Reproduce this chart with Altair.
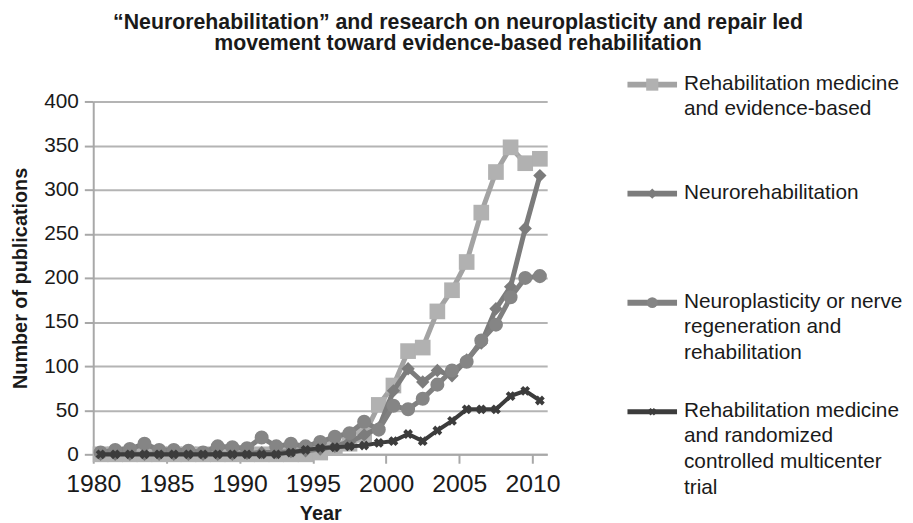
import altair as alt
import pandas as pd

# ---------------- data ----------------
years = list(range(1980, 2011))

series_names = [
    "Rehabilitation medicine and evidence-based",
    "Neurorehabilitation",
    "Neuroplasticity or nerve regeneration and rehabilitation",
    "Rehabilitation medicine and randomized controlled multicenter trial",
]

legend_lines = [
    "Rehabilitation medicine\nand evidence-based",
    "Neurorehabilitation",
    "Neuroplasticity or nerve\nregeneration and\nrehabilitation",
    "Rehabilitation medicine\nand randomized\ncontrolled multicenter\ntrial",
]

evidence_based = [0, 0, 0, 0, 0, 0, 0, 0, 0, 0,
                  0, 0, 0, 0, 0, 2, 7, 12, 22, 56,
                  78, 117, 121, 162, 186, 218, 274, 320, 348, 330, 335]

neurorehab = [0, 0, 0, 0, 0, 0, 0, 0, 0, 0,
              1, 2, 2, 3, 4, 6, 9, 14, 22, 30,
              72, 97, 82, 95, 89, 107, 126, 165, 190, 256, 316]

neuroplasticity = [2, 5, 6, 12, 5, 5, 4, 2, 9, 8,
                   7, 19, 9, 12, 9, 14, 20, 24, 37, 28,
                   55, 51, 63, 79, 95, 105, 129, 147, 178, 200, 202]

rct_multicenter = [0, 0, 0, 0, 0, 0, 0, 0, 0, 0,
                   0, 0, 0, 2, 5, 7, 8, 9, 10, 13,
                   15, 23, 15, 27, 38, 51, 51, 51, 66, 72, 61]

x_ticks = [1980, 1985, 1990, 1995, 2000, 2005, 2010]
y_ticks = [0, 50, 100, 150, 200, 250, 300, 350, 400]

title_lines = [
    "\u201cNeurorehabilitation\u201d and research on neuroplasticity and repair led",
    "movement toward evidence-based rehabilitation",
]

# ---------------- styles ----------------
FONT = "Liberation Sans"
styles = {
    series_names[0]: dict(line="#a3a3a3", marker="#b1b1b1", shape="square", size=250, angle=0, width=5),
    series_names[1]: dict(line="#7c7c7c", marker="#7c7c7c", shape="diamond", size=180, angle=0, width=5),
    series_names[2]: dict(line="#808080", marker="#858585", shape="circle", size=200, angle=0, width=5),
    series_names[3]: dict(line="#3c3c3c", marker="#3c3c3c", shape="cross", size=100, angle=45, width=4),
}

all_values = [evidence_based, neurorehab, neuroplasticity, rct_multicenter]

rows = []
for name, vals in zip(series_names, all_values):
    for y, v in zip(years, vals):
        rows.append({"series": name, "year": y, "value": v})
df = pd.DataFrame(rows)

x_enc = alt.X(
    "pos:Q",
    scale=alt.Scale(domain=[1980, 2011], nice=False, zero=False),
    axis=alt.Axis(
        values=x_ticks, format="d", title="Year", grid=False,
        domainColor="#a8a8a8", domainWidth=2, tickColor="#a8a8a8", tickWidth=2,
        tickSize=9, labelFontSize=25, labelFont=FONT, labelColor="#1a1a1a",
        labelPadding=9, labelFlush=False,
        titleFont=FONT, titleFontSize=20, titleFontWeight="bold", titleColor="#1a1a1a",
        titlePadding=7,
    ),
)
y_enc = alt.Y(
    "value:Q",
    scale=alt.Scale(domain=[0, 400], nice=False),
    axis=alt.Axis(
        values=y_ticks, title="Number of publications", grid=True,
        gridColor="#b4b4b4", gridWidth=2,
        domainColor="#a8a8a8", domainWidth=2, tickColor="#a8a8a8", tickWidth=2,
        tickSize=9, labelFontSize=21, labelFont=FONT, labelColor="#1a1a1a",
        labelPadding=6,
        titleFont=FONT, titleFontSize=20, titleFontWeight="bold", titleColor="#1a1a1a",
        titlePadding=13,
    ),
)

base = alt.Chart(df).transform_calculate(pos="datum.year + 0.5")

data_layers = []
for name in series_names:
    st = styles[name]
    sub = base.transform_filter(alt.datum.series == name)
    data_layers.append(
        sub.mark_line(color=st["line"], strokeWidth=st["width"]).encode(x=x_enc, y=y_enc)
    )
    data_layers.append(
        sub.mark_point(filled=True, shape=st["shape"], size=st["size"], angle=st["angle"],
                       color=st["marker"], opacity=1, strokeWidth=0).encode(x=x_enc, y=y_enc)
    )

data_group = alt.layer(*data_layers)

# ---------------- legend (rows placed by their own linear scale) ----------------
leg_df = pd.DataFrame({"series": series_names, "label": legend_lines,
                       "row": list(range(len(series_names)))})
leg_y = alt.Y("row:Q", scale=alt.Scale(domain=[0, 3], range=[-17, 313], nice=False, zero=False),
              axis=None)

legend_layers = []
for name in series_names:
    st = styles[name]
    sub = alt.Chart(leg_df).transform_filter(alt.datum.series == name)
    legend_layers.append(
        sub.mark_rule(color=st["line"], strokeWidth=st["width"] + 1).encode(
            x=alt.value(539), x2=alt.value(589), y=leg_y)
    )
    legend_layers.append(
        sub.mark_point(filled=True, shape=st["shape"], size=st["size"] * 0.6, angle=st["angle"],
                       color=st["marker"], opacity=1, strokeWidth=0).encode(
            x=alt.value(564), y=leg_y)
    )
legend_layers.append(
    alt.Chart(leg_df).mark_text(
        align="left", baseline="top", dy=-12, lineBreak="\n", lineHeight=26,
        font=FONT, fontSize=21, color="#1a1a1a",
    ).encode(x=alt.value(596), y=leg_y, text="label:N")
)
legend_group = alt.layer(*legend_layers)

chart = (
    alt.layer(data_group, legend_group)
    .resolve_scale(y="independent")
    .properties(
        width=458,
        height=356,
        title=alt.TitleParams(
            text=title_lines, font=FONT, fontSize=21.5, fontWeight="bold",
            color="#1a1a1a", anchor="middle", frame="group", dx=139, dy=-14,
            lineHeight=22,
        ),
        padding={"left": 86, "top": 92, "right": 361, "bottom": 67},
        autosize=alt.AutoSizeParams(type="none"),
    )
    .configure_view(stroke=None)
)

chart.save("out.html", embed_options={"renderer": "svg", "actions": False})
